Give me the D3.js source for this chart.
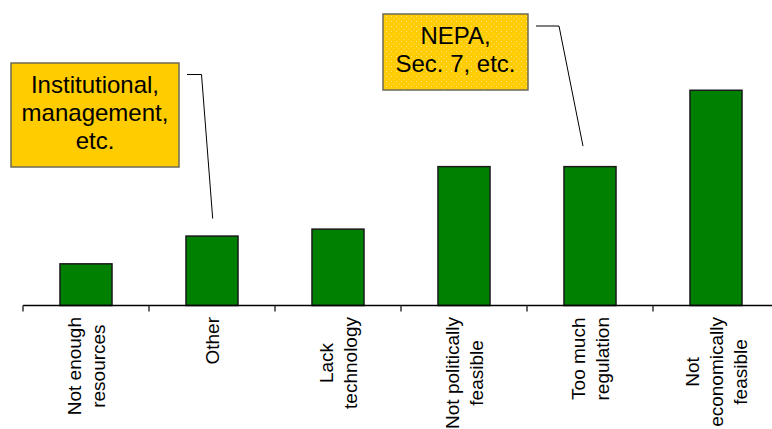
<!DOCTYPE html>
<html>
<head>
<meta charset="utf-8">
<script src="https://cdn.jsdelivr.net/npm/d3@7"></script>
<style>
  html, body { margin: 0; padding: 0; background: #ffffff; }
  svg { display: block; font-family: "Liberation Sans", Arial, sans-serif; }
</style>
</head>
<body>
<svg id="chart" width="772" height="429"></svg>
<script>
// Reasons given, share of responses (%)
const categories = [
  ["Not enough", "resources"],
  ["Other"],
  ["Lack", "technology"],
  ["Not politically", "feasible"],
  ["Too much", "regulation"],
  ["Not", "economically", "feasible"]
];
const values = [6, 10, 11, 20, 20, 31];

// Callout notes attached to particular bars
const noteLines = [
  ["Institutional,", "management,", "etc."],
  ["NEPA,", "Sec. 7, etc."]
];
const noteTargets = [1, 4];

const svg = d3.select("#chart");
const W = 772, H = 429;
const baseY = 305.5;
const left = 23, right = 779;
const pad = 0.587;

const keys = categories.map((c, i) => i);
const x = d3.scaleBand()
  .domain(keys)
  .range([left, right])
  .paddingInner(pad)
  .paddingOuter(pad / 2);
const step = x.step();

const y = d3.scaleLinear().domain([0, 44]).range([baseY, 0]);

// Bars
svg.append("g").selectAll("rect")
  .data(values)
  .join("rect")
  .attr("x", (d, i) => x(i))
  .attr("y", d => y(d))
  .attr("width", x.bandwidth())
  .attr("height", d => baseY - y(d))
  .attr("fill", "#008000")
  .attr("stroke", "#1a1a1a")
  .attr("stroke-width", 1.5);

// Category axis: baseline plus ticks between categories
const axisG = svg.append("g");
axisG.append("line")
  .attr("x1", left).attr("x2", W)
  .attr("y1", baseY).attr("y2", baseY)
  .attr("stroke", "#000").attr("stroke-width", 1.5);
const boundaries = keys.map(i => x(i) - step * pad / 2).concat([right]);
axisG.selectAll("line.tick")
  .data(boundaries)
  .join("line")
  .attr("class", "tick")
  .attr("x1", d => d).attr("x2", d => d)
  .attr("y1", baseY).attr("y2", baseY + 6)
  .attr("stroke", "#333").attr("stroke-width", 1.5);

// Rotated category labels, lines centred on each other, top end near the axis
const fs = 19, lh = 24, labelTop = baseY + 11.5;
categories.forEach((lines, i) => {
  const cx = x(i) + x.bandwidth() / 2;
  const g = svg.append("g").attr("transform", `translate(${cx},0) rotate(-90)`);
  const texts = lines.map(s => g.append("text")
    .attr("font-size", fs)
    .attr("fill", "#000")
    .attr("text-anchor", "middle")
    .text(s));
  const maxW = d3.max(texts, t => t.node().getComputedTextLength());
  const n = lines.length;
  texts.forEach((t, k) => {
    t.attr("x", -(labelTop + maxW / 2))
     .attr("y", (k - (n - 1) / 2) * lh + fs * 0.35);
  });
});

// Dotted texture for the second callout
const defs = svg.append("defs");
const pat = defs.append("pattern")
  .attr("id", "dots")
  .attr("width", 5).attr("height", 5)
  .attr("patternUnits", "userSpaceOnUse");
pat.append("rect").attr("width", 5).attr("height", 5).attr("fill", "#ffcc00");
pat.append("rect").attr("x", 1).attr("y", 1).attr("width", 1).attr("height", 1).attr("fill", "#ffe88a");
pat.append("rect").attr("x", 3.5).attr("y", 3.5).attr("width", 1).attr("height", 1).attr("fill", "#ffe070");

// Callout boxes with leader lines
const boxes = [
  { x0: 11, y0: 63, w: 168, h: 104, fill: "#ffcc00", lead: [187, 74.5, 201.5, 74.5], dx: 0.7, dy: -17.5 },
  { x0: 383, y0: 14, w: 145, h: 76, fill: "url(#dots)", lead: [536, 26, 559, 26], dx: -7, dy: -20.5 }
];
const capH = 17, nlh = 28, nfs = 24;
boxes.forEach((b, j) => {
  const gi = noteTargets[j];
  const tx = x(gi) + x.bandwidth() / 2 + b.dx;
  const ty = y(values[gi]) + b.dy;
  svg.append("path")
    .attr("d", `M${b.lead[0]},${b.lead[1]}L${b.lead[2]},${b.lead[3]}L${tx},${ty}`)
    .attr("fill", "none").attr("stroke", "#000").attr("stroke-width", 1);
  svg.append("rect")
    .attr("x", b.x0).attr("y", b.y0).attr("width", b.w).attr("height", b.h)
    .attr("fill", b.fill).attr("stroke", "#6e6a55").attr("stroke-width", 1.5);
  const lines = noteLines[j];
  const n = lines.length;
  const cyb = b.y0 + b.h / 2 - 3;
  const b1 = cyb - ((n - 1) * nlh - capH) / 2;
  lines.forEach((s, k) => {
    svg.append("text")
      .attr("x", b.x0 + b.w / 2)
      .attr("y", b1 + k * nlh)
      .attr("text-anchor", "middle")
      .attr("font-size", nfs)
      .attr("fill", "#000")
      .text(s);
  });
});
</script>
</body>
</html>
